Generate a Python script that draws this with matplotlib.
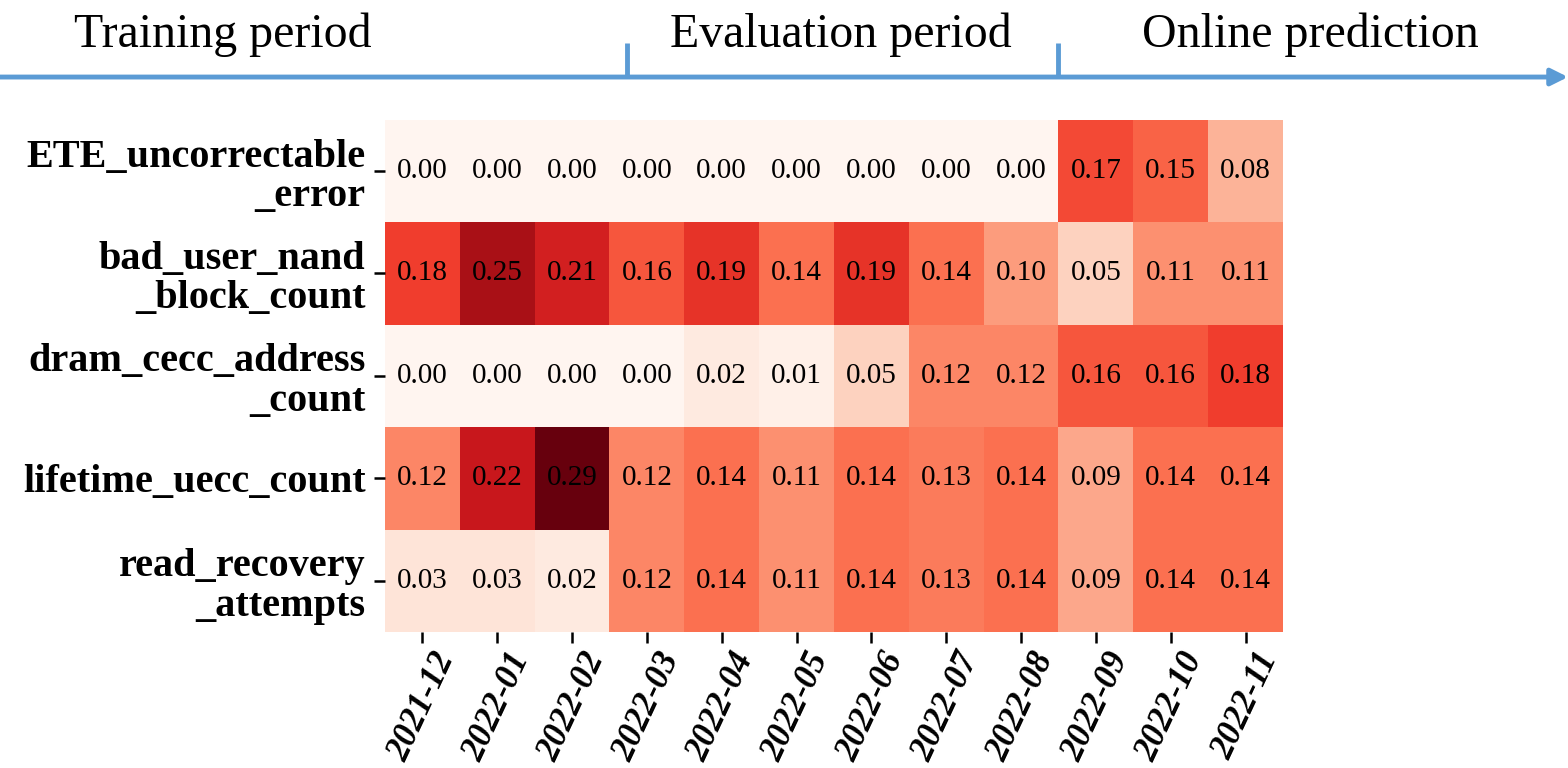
import numpy as np
import matplotlib
matplotlib.use('Agg')
import matplotlib.pyplot as plt

plt.rcParams['font.family'] = ['Liberation Serif', 'DejaVu Serif']

months = ['2021-12', '2022-01', '2022-02', '2022-03', '2022-04', '2022-05',
          '2022-06', '2022-07', '2022-08', '2022-09', '2022-10', '2022-11']
features = ['ETE_uncorrectable\n_error', 'bad_user_nand\n_block_count',
            'dram_cecc_address\n_count', 'lifetime_uecc_count',
            'read_recovery\n_attempts']

ete_uncorrectable = [0.00, 0.00, 0.00, 0.00, 0.00, 0.00, 0.00, 0.00, 0.00, 0.17, 0.15, 0.08]
bad_user_nand = [0.18, 0.25, 0.21, 0.16, 0.19, 0.14, 0.19, 0.14, 0.10, 0.05, 0.11, 0.11]
dram_cecc = [0.00, 0.00, 0.00, 0.00, 0.02, 0.01, 0.05, 0.12, 0.12, 0.16, 0.16, 0.18]
lifetime_uecc = [0.12, 0.22, 0.29, 0.12, 0.14, 0.11, 0.14, 0.13, 0.14, 0.09, 0.14, 0.14]
read_recovery = [0.03, 0.03, 0.02, 0.12, 0.14, 0.11, 0.14, 0.13, 0.14, 0.09, 0.14, 0.14]

periods = ['Training period', 'Evaluation period', 'Online prediction']
period_x = [0.1422, 0.5364, 0.8355]   # label centres (figure fraction)
split_x = [0.40, 0.6747]              # period boundaries on the timeline

vals = np.array([ete_uncorrectable, bad_user_nand, dram_cecc, lifetime_uecc, read_recovery])

fig = plt.figure(figsize=(15.68, 7.68), dpi=100)
ax = fig.add_axes([0.2455, 0.177, 0.5727, 0.667])
ax.pcolormesh(vals, cmap='Reds', vmin=0, vmax=vals.max())
ax.set_xlim(0, vals.shape[1])
ax.set_ylim(vals.shape[0], 0)
for i in range(vals.shape[0]):
    for j in range(vals.shape[1]):
        ax.text(j + 0.5, i + 0.5, f'{vals[i, j]:.2f}', ha='center', va='center',
                fontsize=21, color='black')
for s in ax.spines.values():
    s.set_visible(False)
ax.set_xticks(np.arange(len(months)) + 0.5)
ax.set_xticklabels(months, rotation=65, ha='center',
                   fontsize=25, fontweight='bold', fontstyle='italic')
ax.set_yticks(np.arange(len(features)) + 0.5)
ax.set_yticklabels(features, fontsize=29, fontweight='bold', ha='right',
                   linespacing=1.08)
ax.tick_params(axis='both', length=8, width=1.8, pad=6)
ax.tick_params(axis='x', pad=3)

# timeline on top
tl = fig.add_axes([0, 0, 1, 1], facecolor='none')
tl.set_xlim(0, 1)
tl.set_ylim(0, 1)
tl.axis('off')
blue = '#5b9bd5'
tl.annotate('', xy=(1.0, 0.8997), xytext=(0.0, 0.8997),
            arrowprops=dict(arrowstyle='-|>', color=blue, lw=3.5,
                            mutation_scale=25, shrinkA=0, shrinkB=0))
for x in split_x:
    tl.plot([x, x], [0.8997, 0.944], color=blue, lw=3.5, solid_capstyle='butt')
for name, x in zip(periods, period_x):
    tl.text(x, 0.9388, name, ha='center', va='baseline', fontsize=34.5)

fig.savefig('out.png', dpi=100)
